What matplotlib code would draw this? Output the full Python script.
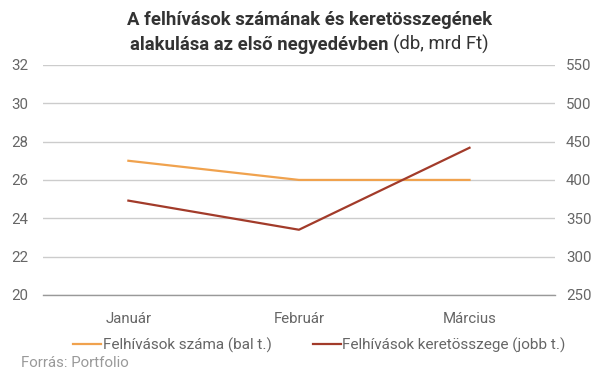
import matplotlib.pyplot as plt

plt.rcParams['font.family'] = ['Roboto', 'DejaVu Sans']

months = ['Január', 'Február', 'Március']
calls_count = [27, 26, 26]          # db, left axis
calls_budget = [373, 335, 442]      # mrd Ft, right axis
left_ticks = [20, 22, 24, 26, 28, 30, 32]
right_ticks = [250, 300, 350, 400, 450, 500, 550]

ORANGE = '#F0A24E'
DARKRED = '#A23B2A'
GRID = '#CCCCCC'
TICK = '#666666'

fig = plt.figure(figsize=(6.07, 3.8), dpi=100)
ax = fig.add_axes([0.071, 0.224, 0.843, 0.605])
ax2 = ax.twinx()

x = list(range(len(months)))
l1, = ax.plot(x, calls_count, color=ORANGE, lw=1.6)
l2, = ax2.plot(x, calls_budget, color=DARKRED, lw=1.6)

ax.set_xlim(-0.5, 2.5)
ax.set_ylim(20, 32)
ax2.set_ylim(250, 550)
ax.set_yticks(left_ticks)
ax2.set_yticks(right_ticks)
ax.set_xticks(x)
ax.set_xticklabels(months)

ax.grid(axis='y', color=GRID, lw=1)
ax.set_axisbelow(True)
for a in (ax, ax2):
    for s in a.spines.values():
        s.set_visible(False)
    a.tick_params(length=0, labelsize=10.8, labelcolor=TICK)
# baseline at 20
ax.spines['bottom'].set_visible(True)
ax.spines['bottom'].set_color('#999999')
ax.spines['bottom'].set_linewidth(1)
ax.tick_params(axis='y', pad=10.5)
ax2.tick_params(axis='y', pad=8)
ax.tick_params(axis='x', pad=12)

# title: first line bold, second line bold + normal part
fig.text(0.51, 0.947, 'A felhívások számának és keretösszegének',
         ha='center', va='center', fontsize=13.3, fontweight='bold', color='#333333')
renderer = fig.canvas.get_renderer()
bold = fig.text(0, 0.882, 'alakulása az első negyedévben ', ha='left', va='center',
                fontsize=13.3, fontweight='bold', color='#333333')
norm = fig.text(0, 0.882, '(db, mrd Ft)', ha='left', va='center',
                fontsize=13.3, color='#333333')
wb = bold.get_window_extent(renderer).width / fig.bbox.width
wn = norm.get_window_extent(renderer).width / fig.bbox.width
start = 0.51 - (wb + wn) / 2
bold.set_x(start)
norm.set_x(start + wb)

fig.legend([l1, l2], ['Felhívások száma (bal t.)', 'Felhívások keretösszege (jobb t.)'],
           loc='center', bbox_to_anchor=(0.526, 0.092), ncol=2, frameon=False,
           fontsize=11, handlelength=1.85, handletextpad=0.1, columnspacing=2.7,
           labelcolor=TICK, borderaxespad=0, borderpad=0)

fig.text(0.035, 0.045, 'Forrás: Portfolio', ha='left', va='center',
         fontsize=10.8, color='#999999')

fig.savefig('out.png', dpi=100)
